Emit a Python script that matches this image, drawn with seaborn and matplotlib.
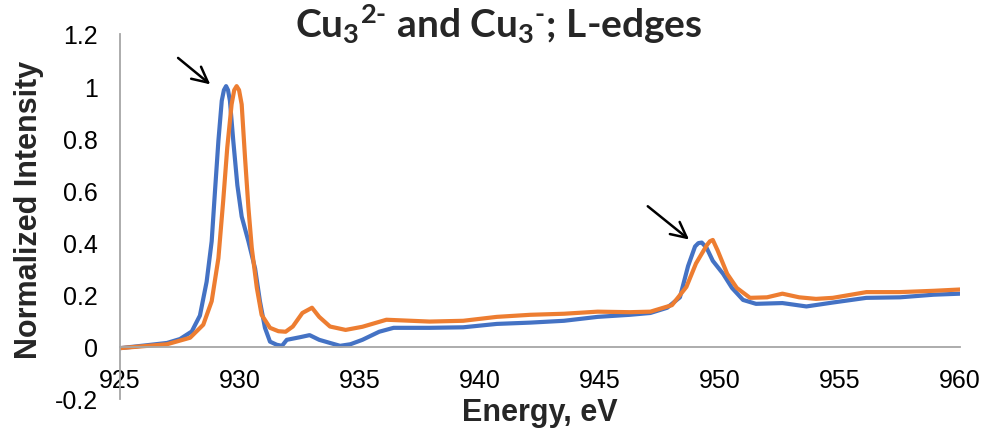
import matplotlib
matplotlib.use("Agg")
import matplotlib.pyplot as plt
import seaborn as sns
import pandas as pd

# ---- data ----
energy_blue = [925, 926, 926.96, 927.5, 927.99, 928.33, 928.61, 928.82, 928.96, 929.1, 929.24,
               929.33, 929.42, 929.5, 929.58, 929.72, 929.89, 930.07, 930.35, 930.63, 930.83,
               931.04, 931.25, 931.53, 931.75, 931.95, 932.5, 932.9, 933.3, 933.75, 934.17,
               934.6, 935.1, 935.8, 936.4, 937.9, 939.3, 940.7, 942.1, 943.5, 944.9, 946.25,
               947.1, 947.8, 948.33, 948.67, 948.96, 949.1, 949.24, 949.44, 949.7, 950.13,
               950.5, 950.96, 951.5, 952.6, 953.6, 954.7, 956.1, 957.5, 958.9, 960]
intensity_blue = [-0.005, 0.005, 0.015, 0.03, 0.059, 0.12, 0.25, 0.405, 0.60, 0.79, 0.944,
                  0.985, 1.0, 0.985, 0.944, 0.79, 0.62, 0.50, 0.405, 0.30, 0.175,
                  0.073, 0.02, 0.008, 0.004, 0.027, 0.037, 0.045, 0.027, 0.015, 0.004,
                  0.01, 0.027, 0.058, 0.073, 0.073, 0.075, 0.088, 0.093, 0.10, 0.115, 0.123,
                  0.13, 0.15, 0.19, 0.31, 0.385, 0.398, 0.40, 0.38, 0.33, 0.28,
                  0.226, 0.18, 0.165, 0.168, 0.155, 0.17, 0.188, 0.19, 0.2, 0.204]

energy_orange = [925, 926.96, 927.92, 928.47, 928.82, 929.1, 929.3, 929.47, 929.65, 929.76,
                 929.86, 929.96, 930.07, 930.21, 930.35, 930.49, 930.7, 930.9, 931.25, 931.6,
                 931.9, 932.2, 932.6, 933.0, 933.3, 933.75, 934.4, 935.1, 936.1, 937.9, 939.3,
                 940.7, 942.1, 943.5, 944.9, 946.25, 947.1, 948.0, 948.6, 949.0, 949.45, 949.58,
                 949.7, 949.9, 950.3, 950.7, 951.25, 951.96, 952.6, 953.3, 954.0, 954.7, 956.1,
                 957.5, 958.9, 960]
intensity_orange = [-0.005, 0.01, 0.035, 0.085, 0.175, 0.34, 0.56, 0.765, 0.93, 0.985,
                    1.0, 0.985, 0.93, 0.725, 0.535, 0.38, 0.227, 0.123, 0.073, 0.06,
                    0.058, 0.078, 0.13, 0.15, 0.115, 0.078, 0.065, 0.077, 0.104, 0.097, 0.10,
                    0.115, 0.123, 0.127, 0.135, 0.133, 0.135, 0.16, 0.23, 0.32, 0.39, 0.405,
                    0.41, 0.37, 0.28, 0.226, 0.188, 0.19, 0.204, 0.19, 0.184, 0.188, 0.21,
                    0.21, 0.215, 0.22]

x_ticks = [925, 930, 935, 940, 945, 950, 955, 960]
y_ticks = [-0.2, 0, 0.2, 0.4, 0.6, 0.8, 1, 1.2]
y_tick_labels = ["-0.2", "0", "0.2", "0.4", "0.6", "0.8", "1", "1.2"]

title_text = r"Cu$_3$$^{2\text{-}}$ and Cu$_3$$^{\text{-}}$; L-edges"
x_label = "Energy, eV"
y_label = "Normalized Intensity"

# arrows (tail, head) in data coords
arrow1 = ((927.33, 1.115), (928.85, 1.0))
arrow2 = ((946.9, 0.546), (948.8, 0.405))

# ---- style ----
sns.set_style("white")
plt.rcParams["font.family"] = ["Liberation Sans", "DejaVu Sans"]
plt.rcParams["mathtext.fontset"] = "custom"
plt.rcParams["mathtext.rm"] = "Lato:bold"
plt.rcParams["mathtext.it"] = "Lato:bold"
plt.rcParams["mathtext.bf"] = "Lato:bold"

BLUE = "#4472C4"
ORANGE = "#ED7D31"
AXIS_GRAY = "#A6A6A6"

fig = plt.figure(figsize=(9.86, 4.31), dpi=100)
ax = fig.add_axes([120 / 986, 1 - 400 / 431, (960 - 120) / 986, (400 - 35) / 431])

df_b = pd.DataFrame({"Energy": energy_blue, "Intensity": intensity_blue})
df_o = pd.DataFrame({"Energy": energy_orange, "Intensity": intensity_orange})
sns.lineplot(data=df_b, x="Energy", y="Intensity", color=BLUE, linewidth=3.0,
             estimator=None, sort=False, ax=ax)
sns.lineplot(data=df_o, x="Energy", y="Intensity", color=ORANGE, linewidth=3.0,
             estimator=None, sort=False, ax=ax)
for ln in ax.lines:
    ln.set_solid_joinstyle("round")
    ln.set_solid_capstyle("round")

ax.set_xlim(925, 960)
ax.set_ylim(-0.2, 1.2)
ax.set_xticks(x_ticks)
ax.set_xticklabels([str(t) for t in x_ticks])
ax.set_yticks(y_ticks)
ax.set_yticklabels(y_tick_labels)
ax.set_xlabel("")
ax.set_ylabel("")

for s in ["top", "right"]:
    ax.spines[s].set_visible(False)
ax.spines["bottom"].set_position(("data", 0))
ax.spines["bottom"].set_color(AXIS_GRAY)
ax.spines["left"].set_color(AXIS_GRAY)
ax.spines["bottom"].set_linewidth(1.3)
ax.spines["left"].set_linewidth(1.3)
ax.tick_params(axis="both", length=0, labelsize=18, colors="black")
ax.tick_params(axis="x", pad=15)
ax.tick_params(axis="y", pad=16)

for tail, head in (arrow1, arrow2):
    ax.annotate("", xy=head, xytext=tail,
                arrowprops=dict(arrowstyle="->", color="black", lw=1.8, mutation_scale=28))

fig.text(540 / 986, 1 - 421 / 431, x_label, ha="center", va="baseline",
         fontsize=22, fontweight="bold")
fig.text(29 / 986, 1 - 210 / 431, y_label, ha="center", va="center", rotation=90,
         fontsize=22, fontweight="bold")
fig.text(499 / 986, 1 - 38 / 431, title_text, ha="center", va="baseline",
         fontsize=28, fontweight="bold", family="Lato")

fig.savefig("out.png", dpi=100)
